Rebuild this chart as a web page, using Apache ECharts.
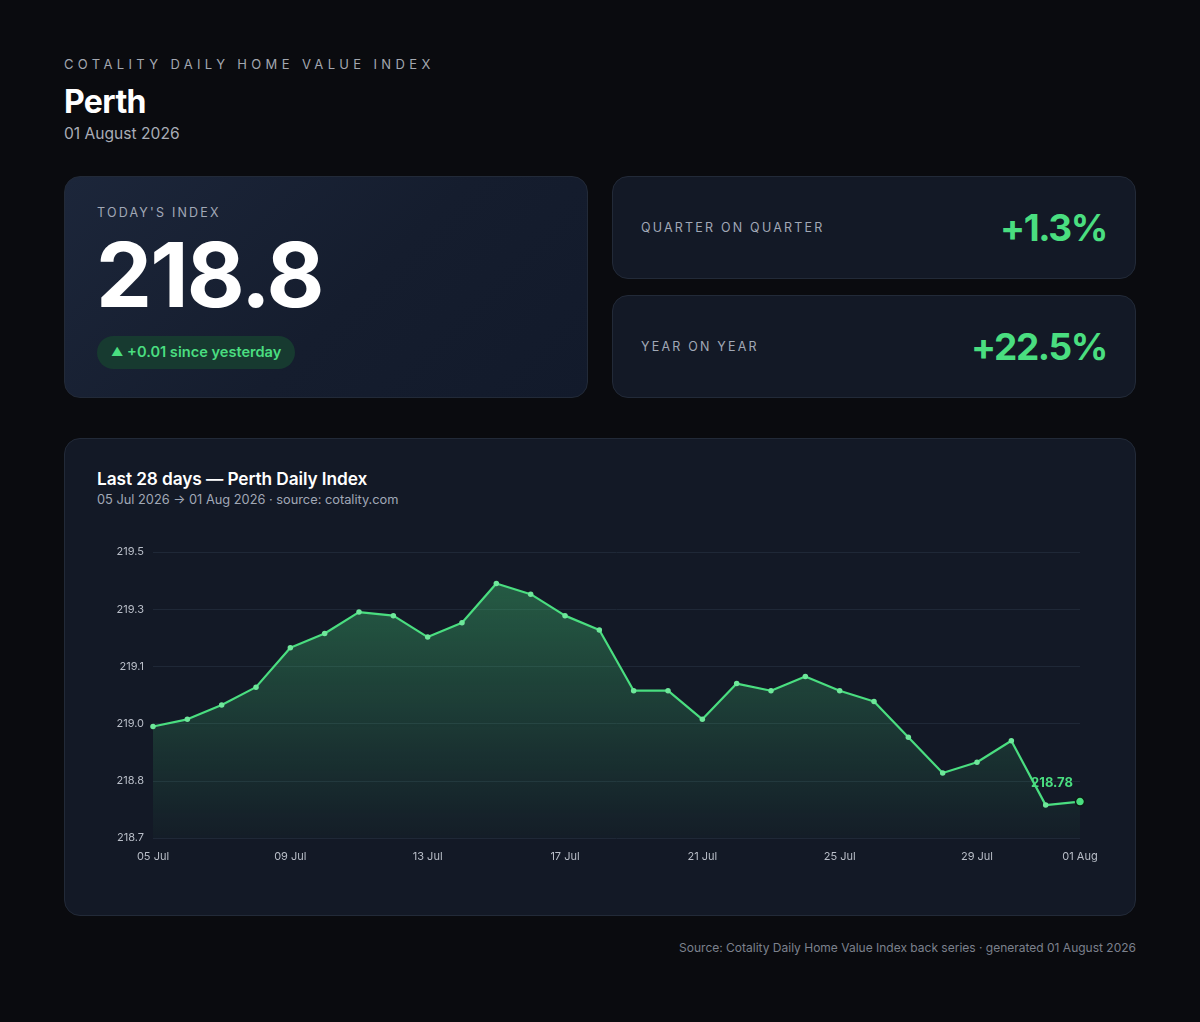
<!DOCTYPE html>
<html>
<head>
<meta charset="utf-8">
<script src="https://cdn.jsdelivr.net/npm/echarts@6/dist/echarts.min.js"></script>
<style>
  html, body { margin: 0; padding: 0; }
  body {
    width: 1200px; height: 1022px; position: relative; overflow: hidden;
    background: #0a0b0f; font-family: Inter, "Noto Sans", sans-serif; color: #fff;
  }
  .abs { position: absolute; }
  .eyebrow { left: 64px; top: 56px; font-size: 13px; letter-spacing: 4.35px; color: #a3a7b0; line-height: 16px; }
  .city { left: 64px; top: 83px; font-size: 32px; font-weight: 700; letter-spacing: -0.6px; line-height: 38px; }
  .date { left: 64px; top: 124px; font-size: 15.6px; color: #a9adb6; line-height: 20px; }
  .card { border: 1px solid #222a38; border-radius: 16px; box-sizing: border-box; background: #131926; }
  .hero { left: 64px; top: 176px; width: 524px; height: 222px;
    background: linear-gradient(135deg, #1c263a 0%, #151d2e 55%, #121a2b 100%); }
  .label { font-size: 12.5px; letter-spacing: 2.2px; color: #a1a8b6; line-height: 16px; }
  .big { left: 31px; top: 45px; font-size: 89px; font-weight: 700; letter-spacing: -1.8px; line-height: 106px; }
  .pill { left: 32px; top: 159px; height: 33px; padding: 0 14px; border-radius: 17px;
    background: #173a30; color: #4ade80; font-size: 14.6px; font-weight: 600; line-height: 33px; }
  .pill .tri { font-size: 12px; position: relative; top: -1px; }
  .stat { left: 612px; width: 524px; height: 103px; }
  .stat .label { left: 28px; top: 43px; }
  .stat .val { right: 28px; top: 28px; font-size: 37px; font-weight: 700; color: #4ade80; letter-spacing: -1.4px; line-height: 46px; }
  .chartcard { left: 64px; top: 438px; width: 1072px; height: 478px; }
  .ctitle { left: 32px; top: 29px; font-size: 17.3px; font-weight: 600; letter-spacing: -0.1px; line-height: 22px; }
  .csub { left: 32px; top: 53px; font-size: 12.8px; color: #a1a8b6; line-height: 16px; }
  #chart { left: 0; top: 90px; width: 1070px; height: 360px; }
  .foot { right: 64px; top: 940px; font-size: 12px; color: #7c818d; line-height: 15px; }
</style>
</head>
<body>
<div class="abs eyebrow">COTALITY DAILY HOME VALUE INDEX</div>
<div class="abs city">Perth</div>
<div class="abs date">01 August 2026</div>

<div class="abs card hero">
  <div class="abs label" style="left:32px;top:28px;">TODAY'S INDEX</div>
  <div class="abs big">218.8</div>
  <div class="abs pill"><span class="tri">▲</span> +0.01 since yesterday</div>
</div>

<div class="abs card stat" style="top:176px;">
  <div class="abs label">QUARTER ON QUARTER</div>
  <div class="abs val">+1.3%</div>
</div>
<div class="abs card stat" style="top:295px;">
  <div class="abs label">YEAR ON YEAR</div>
  <div class="abs val">+22.5%</div>
</div>

<div class="abs card chartcard">
  <div class="abs ctitle">Last 28 days — Perth Daily Index</div>
  <div class="abs csub">05 Jul 2026 → 01 Aug 2026 · source: cotality.com</div>
  <div class="abs" id="chart"></div>
</div>

<div class="abs foot">Source: Cotality Daily Home Value Index back series · generated 01 August 2026</div>

<script>
const days = [
  '05 Jul', '06 Jul', '07 Jul', '08 Jul', '09 Jul', '10 Jul', '11 Jul',
  '12 Jul', '13 Jul', '14 Jul', '15 Jul', '16 Jul', '17 Jul', '18 Jul',
  '19 Jul', '20 Jul', '21 Jul', '22 Jul', '23 Jul', '24 Jul', '25 Jul',
  '26 Jul', '27 Jul', '28 Jul', '29 Jul', '30 Jul', '31 Jul', '01 Aug'
];
const indexValues = [
  218.99, 219.01, 219.05, 219.10, 219.21, 219.25, 219.31,
  219.30, 219.24, 219.28, 219.39, 219.36, 219.30, 219.26,
  219.09, 219.09, 219.01, 219.11, 219.09, 219.13, 219.09,
  219.06, 218.96, 218.86, 218.89, 218.95, 218.77, 218.78
];
const yMin = 218.678;
const yMax = 219.478;
const yStep = 0.16;
const yTickLabels = ['218.7', '218.8', '219.0', '219.1', '219.3', '219.5'];

const green = '#4ade80';
const chart = echarts.init(document.getElementById('chart'));

const seriesData = indexValues.map((v, i) => {
  if (i !== indexValues.length - 1) return v;
  return {
    value: v,
    symbolSize: 9,
    itemStyle: { color: green, borderColor: '#0f1a17', borderWidth: 1.5 },
    label: {
      show: true,
      position: 'top',
      offset: [-28, -2],
      formatter: (p) => p.value.toFixed(2),
      color: green,
      fontSize: 13,
      fontWeight: 700,
      fontFamily: 'Inter'
    }
  };
});

chart.setOption({
  animation: false,
  grid: { left: 88, right: 55, top: 23, bottom: 51 },
  xAxis: {
    type: 'category',
    data: days,
    boundaryGap: false,
    axisLine: { show: false },
    axisTick: { show: false },
    axisLabel: {
      color: '#b9bec8',
      fontSize: 11,
      fontFamily: 'Inter',
      margin: 13,
      interval: (i) => i % 4 === 0 || i === days.length - 1
    },
    splitLine: { show: false }
  },
  yAxis: {
    type: 'value',
    min: yMin,
    max: yMax,
    interval: yStep,
    axisLine: { show: false },
    axisTick: { show: false },
    axisLabel: {
      color: '#b9bec8',
      fontSize: 11,
      fontFamily: 'Inter',
      margin: 9,
      formatter: (v) => yTickLabels[Math.round((v - yMin) / yStep)] || ''
    },
    splitLine: { lineStyle: { color: '#1f2837', width: 1 } }
  },
  series: [{
    type: 'line',
    data: seriesData,
    symbol: 'circle',
    symbolSize: 5.5,
    showAllSymbol: true,
    lineStyle: { color: green, width: 2.2 },
    itemStyle: { color: '#6ee79a' },
    areaStyle: {
      color: new echarts.graphic.LinearGradient(0, 0, 0, 1, [
        { offset: 0, color: 'rgba(74,222,128,0.48)' },
        { offset: 1, color: 'rgba(74,222,128,0.03)' }
      ])
    }
  }]
});
</script>
</body>
</html>
